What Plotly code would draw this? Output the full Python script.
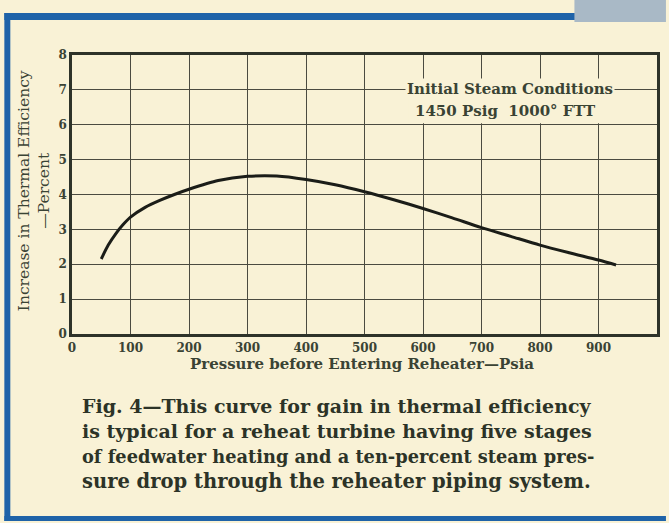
import plotly.graph_objects as go

# Reheater inlet pressure (psia) and gain in thermal efficiency (percent)
pressure = [50, 62, 75, 87, 100, 125, 150, 175, 200, 250, 300, 350, 400, 450, 500, 550, 600, 650, 700, 750, 800, 850, 900, 930]
efficiency_gain = [2.15, 2.55, 2.88, 3.13, 3.35, 3.63, 3.83, 4.0, 4.15, 4.4, 4.52, 4.53, 4.43, 4.28, 4.08, 3.85, 3.6, 3.33, 3.05, 2.8, 2.55, 2.33, 2.12, 1.98]

x_ticks = [0, 100, 200, 300, 400, 500, 600, 700, 800, 900]
y_ticks = [0, 1, 2, 3, 4, 5, 6, 7, 8]

caption_lines = [
    "Fig. 4\u2014This curve for gain in thermal efficiency",
    "is typical for a reheat turbine having five stages",
    "of feedwater heating and a ten-percent steam pres-",
    "sure drop through the reheater piping system.",
]
# per-line sizes so each caption line fills the same measure
caption_sizes = [19, 19, 17.8, 19.5]

W, H = 669, 523
L, R, T, B = 72, 660, 55, 334  # plot area edges in pixels

PAPER = "#f9f2d6"
INK = "#3a4334"
GRID = "#4b4b40"
BLUE = "#1f63a8"


def px(xp):
    return (xp - L) / (R - L)


def py(yp):
    return (B - yp) / (B - T)


fig = go.Figure()
fig.add_trace(go.Scatter(
    x=pressure, y=efficiency_gain, mode="lines",
    line=dict(color="#1b1d18", width=3, shape="spline", smoothing=0.8),
    hoverinfo="skip", showlegend=False,
))

serif = "DejaVu Serif"

fig.update_layout(
    width=W, height=H,
    margin=dict(l=L, r=W - R, t=T, b=H - B),
    paper_bgcolor=PAPER, plot_bgcolor=PAPER,
    font=dict(family=serif, color=INK),
    xaxis=dict(
        range=[0, 1000], tickvals=x_ticks, ticktext=[str(v) for v in x_ticks],
        showgrid=True, gridcolor=GRID, gridwidth=1.2, zeroline=False,
        showline=True, linecolor="#2e3329", linewidth=2.5, mirror=True,
        ticks="", ticklabelstandoff=1,
        tickfont=dict(family=serif, size=12, color=INK, weight="bold"),
    ),
    yaxis=dict(
        range=[0, 8], tickvals=y_ticks,
        showgrid=True, gridcolor=GRID, gridwidth=1.2, zeroline=False,
        showline=True, linecolor="#2e3329", linewidth=2.5, mirror=True,
        ticks="", ticklabelstandoff=0,
        tickfont=dict(family=serif, size=12, color=INK, weight="bold"),
    ),
)

shapes = [
    # clear the grid behind the steam-condition note
    dict(type="rect", xref="x", yref="y", x0=575, x1=996, y0=6.04, y1=6.96,
         fillcolor=PAPER, line=dict(width=0), layer="above"),
    # page frame
    dict(type="rect", xref="paper", yref="paper", x0=px(4), x1=px(10), y0=py(521), y1=py(13),
         fillcolor=BLUE, line=dict(width=0), layer="below"),
    dict(type="rect", xref="paper", yref="paper", x0=px(4), x1=px(578), y0=py(20), y1=py(13),
         fillcolor=BLUE, line=dict(width=0), layer="below"),
    dict(type="rect", xref="paper", yref="paper", x0=px(577), x1=px(669), y0=py(22), y1=py(0),
         fillcolor="#a9b9c6", line=dict(width=0), layer="below"),
    dict(type="rect", xref="paper", yref="paper", x0=px(4), x1=px(669), y0=py(521), y1=py(516),
         fillcolor=BLUE, line=dict(width=0), layer="below"),
]
fig.update_layout(shapes=shapes)

annotations = [
    dict(text="Initial Steam Conditions", xref="paper", yref="paper",
         x=px(512), y=py(89), xanchor="center", yanchor="middle", showarrow=False,
         bgcolor=PAPER, borderpad=1,
         font=dict(family=serif, size=15, color=INK, weight="bold")),
    dict(text="1450 Psig  1000\u00b0 FTT", xref="paper", yref="paper",
         x=px(508), y=py(111), xanchor="center", yanchor="middle", showarrow=False,
         font=dict(family=serif, size=15, color=INK, weight="bold")),
    dict(text="Pressure before Entering Reheater\u2014Psia", xref="paper", yref="paper",
         x=px(363), y=py(364), xanchor="center", yanchor="middle", showarrow=False,
         font=dict(family=serif, size=15, color=INK, weight="bold")),
    dict(text="Increase in Thermal Efficiency<br>\u2014Percent", xref="paper", yref="paper",
         x=px(34), y=py(191), xanchor="center", yanchor="middle", showarrow=False,
         textangle=-90,
         font=dict(family=serif, size=15.5, color=INK)),
]

for i, (line, size) in enumerate(zip(caption_lines, caption_sizes)):
    annotations.append(dict(
        text=line, xref="paper", yref="paper",
        x=px(80), y=py(406 + 25.3 * i), xanchor="left", yanchor="middle", showarrow=False,
        font=dict(family=serif, size=size, color="#2c3327", weight="bold"),
    ))

fig.update_layout(annotations=annotations)

fig.write_html("out.html")
